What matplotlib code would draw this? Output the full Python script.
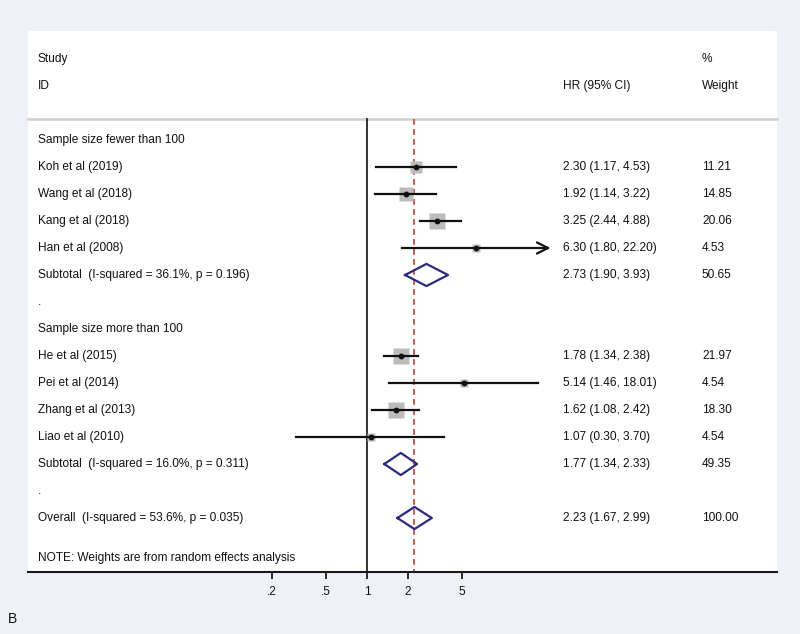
import numpy as np
import matplotlib
matplotlib.use('Agg')
import matplotlib.pyplot as plt
from matplotlib.ticker import NullLocator

plt.rcParams['font.family'] = ['Liberation Sans', 'DejaVu Sans']

# study level data
studies = ['Koh et al (2019)', 'Wang et al (2018)', 'Kang et al (2018)', 'Han et al (2008)',
           'He et al (2015)', 'Pei et al (2014)', 'Zhang et al (2013)', 'Liao et al (2010)']
hr = [2.30, 1.92, 3.25, 6.30, 1.78, 5.14, 1.62, 1.07]
lo = [1.17, 1.14, 2.44, 1.80, 1.34, 1.46, 1.08, 0.30]
hi = [4.53, 3.22, 4.88, 22.20, 2.38, 18.01, 2.42, 3.70]
weights = [11.21, 14.85, 20.06, 4.53, 21.97, 4.54, 18.30, 4.54]
study_rows = [1, 2, 3, 4, 8, 9, 10, 11]

# pooled estimates
pooled_labels = ['Subtotal  (I-squared = 36.1%, p = 0.196)',
                 'Subtotal  (I-squared = 16.0%, p = 0.311)',
                 'Overall  (I-squared = 53.6%, p = 0.035)']
pooled_hr = [2.73, 1.77, 2.23]
pooled_lo = [1.90, 1.34, 1.67]
pooled_hi = [3.93, 2.33, 2.99]
pooled_w = [50.65, 49.35, 100.00]
pooled_rows = [5, 12, 14]

groups = ['Sample size fewer than 100', 'Sample size more than 100']
group_rows = [0, 7]
dot_rows = [6, 13]

xticks = [0.2, 0.5, 1, 2, 5]
xticklabels = ['.2', '.5', '1', '2', '5']

bg = '#eef2f6'
fs = 8.6
W, H = 800, 634
fig = plt.figure(figsize=(W / 100, H / 100), dpi=100, facecolor=bg)

# panel in pixels
left, right, top, bottom = 28, 777, 31, 572
ax = fig.add_axes([left / W, 1 - bottom / H, (right - left) / W, (bottom - top) / H])
ax.set_facecolor('white')

# scale: 1 at x=367px, 59.2 px per log unit
k = 59.2
x0 = 367
ax.set_xscale('log')
ax.set_xlim(np.exp((left - x0) / k), np.exp((right - x0) / k))
row0, step = 140, 27
ax.set_ylim((bottom - row0) / step, (top - row0) / step)

hdr_y = (119 - row0) / step
ybot = (bottom - row0) / step

for s in ['top', 'left', 'right']:
    ax.spines[s].set_visible(False)
ax.spines['bottom'].set_linewidth(1.5)
ax.spines['bottom'].set_color('#1a1a1a')
ax.set_yticks([])
ax.set_xticks(xticks)
ax.set_xticklabels(xticklabels, fontsize=fs, color='#111111')
ax.xaxis.set_minor_locator(NullLocator())
ax.tick_params(axis='x', length=5, width=1.3, pad=5, color='#1a1a1a')

# header line and reference lines
ax.plot([ax.get_xlim()[0], ax.get_xlim()[1]], [hdr_y, hdr_y], color='#d3cccc', lw=1.8, clip_on=False)
ax.plot([1, 1], [hdr_y, ybot], color='#111111', lw=1.2)
ax.plot([pooled_hr[2], pooled_hr[2]], [hdr_y, ybot], color='#b5473a', lw=1.2, ls=(0, (3.5, 2.5)))

# studies
for r, m, l, h, w in zip(study_rows, hr, lo, hi, weights):
    side = 2.6 * np.sqrt(w)
    ax.plot(m, r, marker='s', ms=side, color='#bcbcbc', mec='none', zorder=2)
    if h > 20:
        ax.annotate('', xy=(h, r), xytext=(l, r),
                    arrowprops=dict(arrowstyle='->', lw=1.6, color='#111111', mutation_scale=20,
                                    shrinkA=0, shrinkB=0), zorder=3)
    else:
        ax.plot([l, h], [r, r], color='#111111', lw=1.6, zorder=3)
    ax.plot(m, r, marker='o', ms=3.2, color='#111111', zorder=4)

# diamonds
dh = 0.41
for r, m, l, h in zip(pooled_rows, pooled_hr, pooled_lo, pooled_hi):
    ax.plot([l, m, h, m, l], [r, r - dh, r, r + dh, r], color='#2c2a7c', lw=1.6, zorder=4)

# text columns
tr = ax.get_yaxis_transform()
xl = (38 - left) / (right - left)
xh = (563 - left) / (right - left)
xw = (702 - left) / (right - left)
tc = '#111111'
kw = dict(transform=tr, fontsize=fs, color=tc, va='center', ha='left')

ax.text(xl, -3.0, 'Study', **kw)
ax.text(xl, -2.0, 'ID', **kw)
ax.text(xh, -2.0, 'HR (95% CI)', **kw)
ax.text(xw, -3.0, '%', **kw)
ax.text(xw, -2.0, 'Weight', **kw)

for g, r in zip(groups, group_rows):
    ax.text(xl, r, g, **kw)
for r in dot_rows:
    ax.text(xl, r, '.', **kw)
for s, r, m, l, h, w in zip(studies, study_rows, hr, lo, hi, weights):
    ax.text(xl, r, s, **kw)
    ax.text(xh, r, f'{m:.2f} ({l:.2f}, {h:.2f})', **kw)
    ax.text(xw, r, f'{w:.2f}', **kw)
for s, r, m, l, h, w in zip(pooled_labels, pooled_rows, pooled_hr, pooled_lo, pooled_hi, pooled_w):
    ax.text(xl, r, s, **kw)
    ax.text(xh, r, f'{m:.2f} ({l:.2f}, {h:.2f})', **kw)
    ax.text(xw, r, f'{w:.2f}', **kw)

ax.text(xl, (558 - row0) / step, 'NOTE: Weights are from random effects analysis', **kw)

fig.text(8 / W, 1 - 619 / H, 'B', fontsize=10, color=tc, va='center', ha='left')

fig.savefig('out.png', dpi=100, facecolor=bg)
